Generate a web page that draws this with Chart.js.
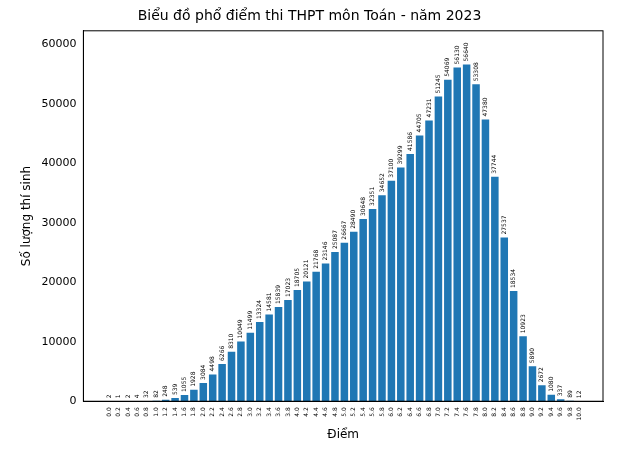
<!DOCTYPE html>
<html>
<head>
<meta charset="utf-8">
<script src="https://cdn.jsdelivr.net/npm/chart.js@4"></script>
<style>body{margin:0;background:#fff}</style>
</head>
<body>
<canvas id="grafico" width="633" height="450"></canvas>
<script>
const diem = [0.0,0.2,0.4,0.6,0.8,1.0,1.2,1.4,1.6,1.8,2.0,2.2,2.4,2.6,2.8,3.0,3.2,3.4,3.6,3.8,4.0,4.2,4.4,4.6,4.8,5.0,5.2,5.4,5.6,5.8,6.0,6.2,6.4,6.6,6.8,7.0,7.2,7.4,7.6,7.8,8.0,8.2,8.4,8.6,8.8,9.0,9.2,9.4,9.6,9.8,10.0];
const soLuong = [2,1,2,4,32,82,248,539,1055,1928,3084,4498,6266,8310,10049,11499,13324,14581,15839,17023,18705,20121,21768,23146,25087,26667,28490,30648,32351,34652,37100,39299,41586,44705,47231,51245,54069,56130,56640,53308,47380,37744,27537,18534,10923,5890,2672,1080,337,89,12];
const yTicks = [0,10000,20000,30000,40000,50000,60000];

const nhanCot = {
  id: 'nhanCot',
  afterDatasetsDraw(chart) {
    const c = chart.ctx;
    const meta = chart.getDatasetMeta(0);
    c.save();
    c.font = '6px "DejaVu Sans"';
    c.fillStyle = '#000';
    c.textAlign = 'left';
    c.textBaseline = 'middle';
    meta.data.forEach((bar, i) => {
      c.save();
      c.translate(bar.x, bar.y - 3);
      c.rotate(-Math.PI / 2);
      c.fillText(String(soLuong[i]), 0, 0);
      c.restore();
    });
    c.restore();
  }
};

new Chart(document.getElementById('grafico').getContext('2d'), {
  type: 'bar',
  data: {
    datasets: [{
      data: diem.map((d, i) => ({ x: d, y: soLuong[i] })),
      backgroundColor: '#1f77b4',
      barPercentage: 0.8,
      categoryPercentage: 1
    }]
  },
  options: {
    responsive: false,
    animation: false,
    layout: { padding: { left: 16, right: 30, top: 0, bottom: 4 } },
    plugins: {
      legend: { display: false },
      tooltip: { enabled: false },
      title: {
        display: true,
        text: 'Biểu đồ phổ điểm thi THPT môn Toán - năm 2023',
        color: '#000',
        font: { family: 'DejaVu Sans', size: 14, weight: 'normal' },
        padding: { top: 8, bottom: 6 }
      }
    },
    scales: {
      x: {
        type: 'linear',
        min: -0.55,
        max: 10.5,
        offset: false,
        afterBuildTicks: s => { s.ticks = diem.map(v => ({ value: v })); },
        ticks: {
          callback: v => Number(v).toFixed(1),
          maxRotation: 90, minRotation: 90, autoSkip: false,
          color: '#000', font: { family: 'DejaVu Sans', size: 6 }
        },
        grid: { display: false, drawTicks: true, tickLength: 3, tickColor: '#000' },
        border: { color: '#000' },
        title: { display: true, text: 'Điểm', color: '#000', font: { family: 'DejaVu Sans', size: 12 } }
      },
      y: {
        min: 0,
        max: 62304,
        afterBuildTicks: s => { s.ticks = yTicks.map(v => ({ value: v })); },
        ticks: { callback: v => String(v), color: '#000', font: { family: 'DejaVu Sans', size: 11 } },
        grid: { display: false, drawTicks: true, tickLength: 4, tickColor: '#000' },
        border: { color: '#000' },
        title: { display: true, text: 'Số lượng thí sinh', color: '#000', font: { family: 'DejaVu Sans', size: 12 } }
      }
    }
  },
  plugins: [nhanCot, {
    id: 'khung',
    afterDraw(chart) {
      const { ctx, chartArea: a } = chart;
      ctx.save();
      ctx.strokeStyle = '#000';
      ctx.lineWidth = 1;
      ctx.strokeRect(a.left, a.top, a.right - a.left, a.bottom - a.top);
      ctx.restore();
    }
  }]
});
</script>
</body>
</html>
